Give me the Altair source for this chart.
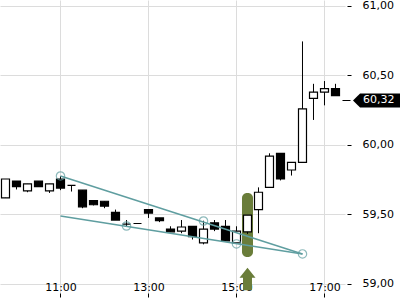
import altair as alt
import pandas as pd

# ---- data ----
times = ["09:45", "10:00", "10:15", "10:30", "10:45", "11:00", "11:15", "11:30",
         "11:45", "12:00", "12:15", "12:30", "12:45", "13:00", "13:15", "13:30",
         "13:45", "14:00", "14:15", "14:30", "14:45", "15:00", "15:15", "15:30",
         "15:45", "16:00", "16:15", "16:30", "16:45", "17:00", "17:15", "17:30"]
opens = [59.62, 59.74, 59.67, 59.74, 59.67, 59.755, 59.71, 59.675,
         59.60, 59.595, 59.515, 59.43, 59.435, 59.535, 59.475, 59.395,
         59.38, 59.415, 59.295, 59.44, 59.415, 59.295, 59.375, 59.535,
         59.695, 59.94, 59.82, 59.875, 60.335, 60.38, 60.405, 60.32]
highs = [59.755, 59.74, 59.72, 59.74, 59.72, 59.775, 59.71, 59.675,
         59.60, 59.595, 59.535, 59.46, 59.435, 59.535, 59.475, 59.415,
         59.46, 59.415, 59.455, 59.46, 59.46, 59.415, 59.495, 59.695,
         59.94, 59.94, 59.875, 60.745, 60.44, 60.46, 60.44, 60.32]
lows = [59.62, 59.68, 59.66, 59.70, 59.655, 59.675, 59.665, 59.545,
        59.565, 59.545, 59.46, 59.41, 59.435, 59.475, 59.445, 59.375,
        59.365, 59.32, 59.285, 59.38, 59.31, 59.295, 59.36, 59.365,
        59.695, 59.745, 59.78, 59.875, 60.18, 60.285, 60.355, 60.32]
closes = [59.755, 59.70, 59.72, 59.70, 59.72, 59.69, 59.71, 59.555,
          59.57, 59.56, 59.46, 59.43, 59.435, 59.51, 59.455, 59.375,
          59.41, 59.34, 59.395, 59.395, 59.31, 59.38, 59.495, 59.66,
          59.92, 59.755, 59.875, 60.26, 60.38, 60.405, 60.355, 60.32]

# trend lines (time, price)
line_names = ["upper", "upper", "lower", "lower"]
line_times = ["11:00", "16:30", "11:00", "16:30"]
line_prices = [59.777, 59.216, 59.489, 59.216]

# touch points
circle_times = ["11:00", "12:30", "14:15", "15:00", "16:30"]
circle_prices = [59.777, 59.417, 59.453, 59.288, 59.216]

# highlighted signal candle
signal_time = ["15:15"]
signal_top = [59.655]
signal_bottom = [59.194]
signal_arrow_price = [59.036]

last_price = [60.32]
last_price_label = ["60,32"]

x_ticks = [11, 13, 15, 17]
y_ticks = [59.0, 59.5, 60.0, 60.5, 61.0]


def to_hours(s):
    h, m = s.split(":")
    return int(h) + int(m) / 60.0


candles = pd.DataFrame({
    "t": [to_hours(s) for s in times],
    "open": opens, "high": highs, "low": lows, "close": closes,
})
candles["dir"] = ["up" if c >= o else "down" for o, c in zip(opens, closes)]

lines = pd.DataFrame({"name": line_names, "t": [to_hours(s) for s in line_times],
                      "p": line_prices})
circles = pd.DataFrame({"t": [to_hours(s) for s in circle_times], "p": circle_prices})
signal = pd.DataFrame({"t": [to_hours(s) for s in signal_time], "top": signal_top,
                       "bottom": signal_bottom, "arrow": signal_arrow_price})
last = pd.DataFrame({"p": last_price, "label": last_price_label})

xs = alt.Scale(domain=[9.625, 17.466], nice=False, zero=False, padding=0)
ys = alt.Scale(domain=[58.935, 61.043], nice=False, zero=False, padding=0)

x_axis = alt.Axis(values=x_ticks, labelExpr="datum.value + ':00'", domain=False,
                  tickSize=4, tickColor="black", labelPadding=-6.5,
                  labelBaseline="alphabetic", labelFontSize=11, labelColor="black",
                  grid=True, gridColor="#dcdcdc", title=None, labelFlush=False)
y_axis = alt.Axis(values=y_ticks, orient="right",
                  labelExpr="replace(format(datum.value, '.2f'), '.', ',')",
                  domain=False, tickSize=4, tickColor="black", offset=2,
                  labelPadding=11, labelFontSize=11, labelColor="black",
                  grid=True, gridColor="#dcdcdc", title=None)


def X(field):
    return alt.X(field, scale=xs, axis=x_axis)


def Y(field):
    return alt.Y(field, scale=ys, axis=y_axis)


green = "#6a7d3a"
teal = "#5f9ea0"

highlight = alt.Chart(signal).mark_bar(size=11, cornerRadius=5, color=green).encode(
    x=X("t:Q"), y=Y("top:Q"), y2="bottom:Q",
)

wicks = alt.Chart(candles).mark_rule(color="black", strokeWidth=1).encode(
    x=X("t:Q"), y=Y("low:Q"), y2="high:Q",
)

bodies = alt.Chart(candles).mark_bar(size=8, stroke="black", strokeWidth=1.2).encode(
    x=X("t:Q"), y=Y("open:Q"), y2="close:Q",
    fill=alt.Fill("dir:N", scale=alt.Scale(domain=["up", "down"], range=["white", "black"]),
                  legend=None),
)

trend = alt.Chart(lines).mark_line(color=teal, strokeWidth=1.5).encode(
    x=X("t:Q"), y=Y("p:Q"), detail="name:N",
)

touch = alt.Chart(circles).mark_point(shape="circle", size=70, filled=False, color=teal,
                                      strokeWidth=1.2).encode(
    x=X("t:Q"), y=Y("p:Q"),
)

arrow_path = "M0,-1.4 L1,-0.15 L0.56,-0.15 L0.56,1.4 L-0.56,1.4 L-0.56,-0.15 L-1,-0.15 Z"
arrow = alt.Chart(signal).mark_point(shape=arrow_path, size=256, filled=True, color=green,
                                     opacity=1).encode(
    x=X("t:Q"), y=Y("arrow:Q"),
)

tag_path = "M-1,0 L-0.7,-0.3 L1,-0.3 L1,0.3 L-0.7,0.3 Z"
tag = alt.Chart(last).mark_point(shape=tag_path, size=2209, filled=True, color="black",
                                 opacity=1).encode(
    x=alt.value(376.5), y=Y("p:Q"),
)
tag_text = alt.Chart(last).mark_text(align="left", baseline="middle", color="white",
                                     fontSize=11).encode(
    x=alt.value(363), y=Y("p:Q"), text="label:N",
)

chart = alt.layer(highlight, wicks, bodies, trend, touch, arrow, tag, tag_text).properties(
    width=345, height=293,
    padding={"left": 0, "top": 0, "right": 55, "bottom": 7},
    autosize="none",
).configure(font="DejaVu Sans").configure_view(stroke=None)

chart.save("out.html", embed_options={"renderer": "svg", "actions": False})
